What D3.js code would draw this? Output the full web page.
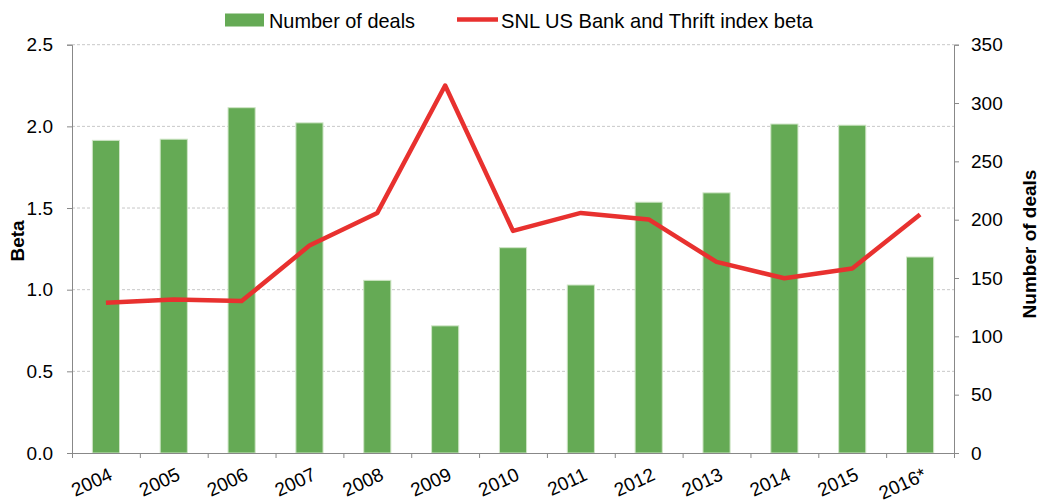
<!DOCTYPE html>
<html>
<head>
<meta charset="utf-8">
<script src="https://d3js.org/d3.v7.min.js"></script>
<style>
    body { margin: 0; background: #fff; }
    text { font-family: "Liberation Sans", Arial, sans-serif; fill: #000; }
    .axis path, .axis line { stroke: #888; }
    .axis text { font-size: 19px; }
    .grid line { stroke: #c8c8c8; stroke-dasharray: 3,2; }
</style>
</head>
<body>
<svg id="vis"></svg>
<script>
    var width = 1039,
        height = 503;

    // data
    var years = ["2004", "2005", "2006", "2007", "2008", "2009", "2010",
        "2011", "2012", "2013", "2014", "2015", "2016*"];
    var deals = [268, 269, 296, 283, 148, 109, 176, 144, 215, 223, 282, 281, 168];
    var beta = [0.92, 0.94, 0.93, 1.27, 1.47, 2.25, 1.36, 1.47, 1.43, 1.17, 1.07, 1.13, 1.46];
    var betaTicks = [0, 0.5, 1.0, 1.5, 2.0, 2.5];
    var dealTicks = [0, 50, 100, 150, 200, 250, 300, 350];

    var plotLeft = 72, plotRight = 954, plotTop = 44.7, plotBottom = 453;
    var barColor = "#65aa55", lineColor = "#e8312f";

    var svg = d3.select("#vis").attr("width", width).attr("height", height);

    var x = d3.scaleBand()
        .domain(years)
        .range([plotLeft, plotRight])
        .paddingInner(0.6)
        .paddingOuter(0.3);
    var xEdges = d3.scaleLinear().domain([0, years.length]).range([plotLeft, plotRight]);
    var yBeta = d3.scaleLinear().domain([0, 2.5]).range([plotBottom, plotTop]);
    var yDeals = d3.scaleLinear().domain([0, 350]).range([plotBottom, plotTop]);

    // gridlines
    svg.append("g")
        .attr("class", "grid")
        .selectAll("line")
        .data(betaTicks.slice(1))
        .enter().append("line")
        .attr("x1", plotLeft)
        .attr("x2", plotRight)
        .attr("y1", d => yBeta(d))
        .attr("y2", d => yBeta(d));

    // bars
    svg.append("g")
        .selectAll("rect")
        .data(deals)
        .enter().append("rect")
        .attr("x", (d, i) => x(years[i]))
        .attr("width", x.bandwidth())
        .attr("y", d => yDeals(d))
        .attr("height", d => plotBottom - yDeals(d))
        .attr("fill", barColor)
        .attr("stroke", "#cfe5c6")
        .attr("stroke-width", 1);

    // beta line
    var line = d3.line()
        .x((d, i) => x(years[i]) + x.bandwidth() / 2)
        .y(d => yBeta(d));
    svg.append("path")
        .datum(beta)
        .attr("d", line)
        .attr("fill", "none")
        .attr("stroke", lineColor)
        .attr("stroke-width", 4.5)
        .attr("stroke-linejoin", "round");

    // axes
    svg.append("g")
        .attr("class", "axis")
        .attr("transform", `translate(${plotLeft},0)`)
        .call(d3.axisLeft(yBeta).tickValues(betaTicks).tickFormat(d3.format(".1f"))
            .tickSizeOuter(0).tickSize(5).tickPadding(14));

    svg.append("g")
        .attr("class", "axis")
        .attr("transform", `translate(${plotRight},0)`)
        .call(d3.axisRight(yDeals).tickValues(dealTicks).tickFormat(d3.format("d"))
            .tickSizeOuter(0).tickSize(5).tickPadding(12));

    svg.append("g")
        .attr("class", "axis")
        .attr("transform", `translate(0,${plotBottom})`)
        .call(d3.axisBottom(xEdges).tickValues(d3.range(years.length + 1))
            .tickFormat("").tickSizeOuter(0).tickSize(5));

    svg.append("g")
        .selectAll("text")
        .data(years)
        .enter().append("text")
        .attr("transform", d => `translate(${x(d) + x.bandwidth() / 2 + 2},${plotBottom + 14}) rotate(-25)`)
        .attr("text-anchor", "end")
        .attr("dy", "0.7em")
        .style("font-size", "19px")
        .text(d => d);

    // axis titles
    svg.append("text")
        .attr("transform", `translate(24,241) rotate(-90)`)
        .attr("text-anchor", "middle")
        .style("font-size", "19px")
        .style("font-weight", "bold")
        .text("Beta");

    svg.append("text")
        .attr("transform", `translate(1036,244) rotate(-90)`)
        .attr("text-anchor", "middle")
        .style("font-size", "19px")
        .style("font-weight", "bold")
        .text("Number of deals");

    // legend
    var legend = svg.append("g");
    legend.append("rect")
        .attr("x", 225).attr("y", 13.5)
        .attr("width", 39).attr("height", 13)
        .attr("fill", barColor);
    legend.append("text")
        .attr("x", 269).attr("y", 28)
        .style("font-size", "21px")
        .attr("textLength", 146)
        .attr("lengthAdjust", "spacingAndGlyphs")
        .text("Number of deals");
    legend.append("line")
        .attr("x1", 457).attr("x2", 498)
        .attr("y1", 19.5).attr("y2", 19.5)
        .attr("stroke", lineColor)
        .attr("stroke-width", 4.5);
    legend.append("text")
        .attr("x", 501).attr("y", 28)
        .style("font-size", "21px")
        .attr("textLength", 312)
        .attr("lengthAdjust", "spacingAndGlyphs")
        .text("SNL US Bank and Thrift index beta");
</script>
</body>
</html>
